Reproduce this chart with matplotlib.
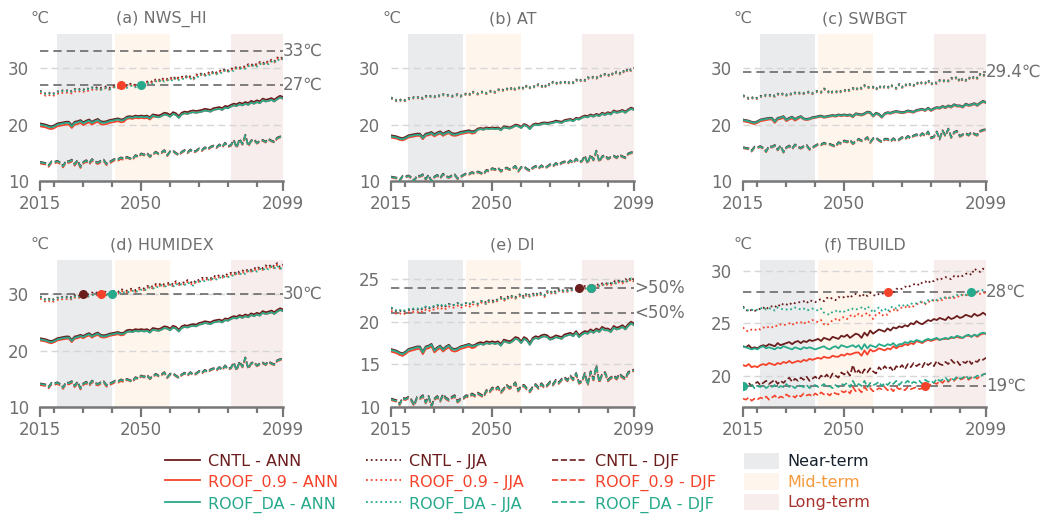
import matplotlib
matplotlib.use('Agg')
import matplotlib.pyplot as plt
import matplotlib.transforms as mtransforms
from matplotlib.lines import Line2D
from matplotlib.patches import Patch

years = list(range(2015, 2100))

# ---------------- (a) NWS_HI ----------------
a_cntl_ann = [20.2,20.1,20.0,19.8,19.7,19.9,20.2,20.3,20.4,20.5,
              20.5,19.9,20.5,20.6,20.8,20.4,20.7,20.9,20.5,20.8,
              21.0,20.6,20.5,20.6,20.8,20.9,21.0,21.1,20.9,21.0,
              21.4,21.5,21.4,21.6,21.5,21.6,21.5,21.6,21.3,21.8,
              21.7,21.6,21.8,22.1,22.0,21.7,22.2,22.0,21.5,22.1,
              22.3,22.2,22.4,22.5,22.4,22.5,22.6,22.8,22.7,22.6,
              22.9,23.0,23.1,22.9,23.3,23.2,23.5,23.7,23.6,23.9,
              23.7,24.0,23.8,24.2,24.0,24.3,24.1,24.6,24.4,24.5,
              24.7,24.4,24.8,25.1,24.9]
a_r09_ann = [19.7,19.6,19.5,19.3,19.2,19.4,19.7,19.8,19.9,20.0,
             20.0,19.4,20.0,20.1,20.3,19.9,20.2,20.4,20.0,20.3,
             20.5,20.1,20.0,20.1,20.3,20.4,20.5,20.6,20.4,20.5,
             21.0,21.1,21.0,21.2,21.1,21.2,21.1,21.2,20.9,21.4,
             21.4,21.3,21.5,21.8,21.7,21.4,21.9,21.7,21.2,21.8,
             22.0,21.9,22.1,22.2,22.1,22.2,22.3,22.5,22.4,22.3,
             22.6,22.7,22.8,22.6,23.0,22.9,23.2,23.4,23.3,23.6,
             23.4,23.7,23.5,23.9,23.7,24.0,23.8,24.3,24.1,24.2,
             24.4,24.1,24.5,24.8,24.6]
a_da_ann = [20.0,19.9,19.8,19.6,19.5,19.7,20.0,20.1,20.2,20.3,
            20.3,19.7,20.3,20.4,20.6,20.2,20.5,20.7,20.3,20.6,
            20.8,20.4,20.3,20.4,20.6,20.7,20.8,20.9,20.7,20.8,
            21.2,21.3,21.2,21.4,21.3,21.4,21.3,21.4,21.1,21.6,
            21.4,21.3,21.5,21.8,21.7,21.4,21.9,21.7,21.2,21.8,
            22.0,21.9,22.1,22.2,22.1,22.2,22.3,22.5,22.4,22.3,
            22.6,22.7,22.8,22.6,23.0,22.9,23.2,23.4,23.3,23.6,
            23.4,23.7,23.5,23.9,23.7,24.0,23.8,24.3,24.1,24.2,
            24.4,24.1,24.5,24.8,24.6]
a_cntl_jja = [26.0,25.8,25.5,25.7,25.4,25.6,25.9,25.8,26.1,26.0,
              26.2,25.9,26.3,26.1,26.4,26.2,26.5,26.3,26.6,26.4,
              26.7,26.5,26.6,26.8,26.5,26.8,26.9,26.7,27.3,27.1,
              26.9,27.2,27.3,27.0,27.3,27.5,27.2,27.6,27.8,27.5,
              28.0,27.8,28.3,27.9,28.1,28.4,28.0,28.6,28.2,28.5,
              28.3,28.8,28.5,28.2,28.9,28.7,29.2,28.9,29.3,29.0,
              29.5,29.2,29.6,29.4,29.9,29.6,30.0,29.8,30.3,30.1,
              30.4,30.2,30.7,30.5,30.9,30.6,31.1,30.8,31.3,31.0,
              31.5,31.2,31.9,31.6,32.0]
a_r09_jja = [25.6,25.4,25.1,25.3,25.0,25.2,25.5,25.4,25.7,25.6,
             25.8,25.5,25.9,25.7,26.0,25.8,26.1,25.9,26.2,26.0,
             26.4,26.2,26.3,26.5,26.2,26.6,26.7,26.5,27.0,26.9,
             26.7,27.0,27.1,26.8,27.1,27.3,27.0,27.4,27.6,27.3,
             27.8,27.6,28.1,27.7,27.9,28.2,27.8,28.4,28.0,28.3,
             28.1,28.6,28.3,28.0,28.7,28.5,29.0,28.7,29.1,28.8,
             29.3,29.0,29.4,29.2,29.7,29.4,29.8,29.6,30.1,29.9,
             30.2,30.0,30.5,30.3,30.7,30.4,30.9,30.6,31.1,30.8,
             31.3,31.0,31.7,31.4,31.8]
a_da_jja = [25.9,25.7,25.4,25.6,25.3,25.5,25.8,25.7,26.0,25.9,
            26.1,25.8,26.2,26.0,26.3,26.1,26.4,26.2,26.5,26.3,
            26.4,26.2,26.3,26.5,26.2,26.5,26.6,26.4,26.9,26.7,
            26.5,26.8,26.9,26.6,26.9,27.1,26.9,27.3,27.5,27.2,
            27.7,27.5,28.0,27.6,27.8,28.1,27.7,28.3,27.9,28.2,
            28.0,28.5,28.2,27.9,28.6,28.4,28.9,28.6,29.0,28.7,
            29.2,28.9,29.3,29.1,29.6,29.3,29.7,29.5,30.0,29.8,
            30.1,29.9,30.4,30.2,30.6,30.3,30.8,30.5,31.0,30.7,
            31.2,30.9,31.6,31.3,31.7]
a_cntl_djf = [13.4,13.3,13.2,12.8,13.5,13.4,13.6,13.3,12.7,13.6,
              13.5,13.8,13.0,13.7,12.6,13.4,13.7,13.2,13.9,13.5,
              13.3,13.6,13.8,13.1,13.4,13.7,14.0,13.9,14.2,14.0,
              14.3,14.1,13.9,14.6,14.4,14.9,14.7,15.0,14.4,14.8,
              15.2,14.9,15.1,15.5,14.6,15.3,15.4,15.0,14.7,15.2,
              15.5,15.1,15.6,15.2,15.4,15.8,15.5,16.0,15.7,16.1,
              16.3,16.0,16.5,16.1,16.8,16.2,16.4,17.3,16.0,17.5,
              16.6,18.2,16.3,17.2,17.4,16.8,17.1,17.3,17.0,17.5,
              17.2,17.0,17.7,17.9,18.0]
a_r09_djf = [13.1,13.0,12.9,12.5,13.2,13.1,13.3,13.0,12.4,13.3,
             13.2,13.5,12.7,13.4,12.3,13.1,13.4,12.9,13.6,13.2,
             13.0,13.3,13.5,12.8,13.1,13.4,13.7,13.6,13.9,13.7,
             14.1,13.9,13.7,14.4,14.2,14.7,14.5,14.8,14.2,14.6,
             15.0,14.7,14.9,15.3,14.4,15.1,15.2,14.8,14.5,15.0,
             15.3,14.9,15.4,15.0,15.2,15.6,15.3,15.8,15.5,15.9,
             16.1,15.8,16.3,15.9,16.6,16.0,16.2,17.1,15.8,17.3,
             16.4,18.0,16.1,17.0,17.2,16.6,16.9,17.1,16.8,17.3,
             17.0,16.8,17.5,17.7,17.8]
a_da_djf = [13.3,13.2,13.1,12.7,13.4,13.3,13.5,13.2,12.6,13.5,
            13.4,13.7,12.9,13.6,12.5,13.3,13.6,13.1,13.8,13.4,
            13.2,13.5,13.7,13.0,13.3,13.6,13.9,13.8,14.1,13.9,
            14.2,14.0,13.8,14.5,14.3,14.8,14.6,14.9,14.3,14.7,
            15.1,14.8,15.0,15.4,14.5,15.2,15.3,14.9,14.6,15.1,
            15.4,15.0,15.5,15.1,15.3,15.7,15.4,15.9,15.6,16.0,
            16.2,15.9,16.4,16.0,16.7,16.1,16.3,17.2,15.9,17.4,
            16.5,18.1,16.2,17.1,17.3,16.7,17.0,17.2,16.9,17.4,
            17.1,16.9,17.6,17.8,17.9]

# ---------------- (b) AT ----------------
b_cntl_ann = [18.1,18.0,17.9,17.7,17.6,17.8,18.1,18.2,18.3,18.4,
              18.4,17.8,18.4,18.5,18.7,18.3,18.6,18.8,18.4,18.7,
              18.9,18.5,18.4,18.5,18.7,18.8,18.9,19.0,18.8,18.9,
              19.3,19.4,19.3,19.5,19.4,19.5,19.4,19.5,19.2,19.7,
              19.6,19.5,19.7,20.0,19.9,19.6,20.1,19.9,19.4,20.0,
              20.2,20.1,20.3,20.4,20.3,20.4,20.5,20.7,20.6,20.5,
              20.8,20.9,21.0,20.8,21.2,21.1,21.4,21.6,21.5,21.8,
              21.6,21.9,21.7,22.1,21.9,22.2,22.0,22.5,22.3,22.4,
              22.6,22.3,22.7,23.0,22.8]
b_r09_ann = [17.7,17.6,17.5,17.3,17.2,17.4,17.7,17.8,17.9,18.0,
             18.0,17.4,18.0,18.1,18.3,17.9,18.2,18.4,18.0,18.3,
             18.5,18.1,18.0,18.1,18.3,18.4,18.5,18.6,18.4,18.5,
             19.1,19.2,19.1,19.3,19.2,19.3,19.2,19.3,19.0,19.5,
             19.4,19.3,19.5,19.8,19.7,19.4,19.9,19.7,19.2,19.8,
             20.0,19.9,20.1,20.2,20.1,20.2,20.3,20.5,20.4,20.3,
             20.6,20.7,20.8,20.6,21.0,20.9,21.2,21.4,21.3,21.6,
             21.4,21.7,21.5,21.9,21.7,22.0,21.8,22.3,22.1,22.2,
             22.4,22.1,22.5,22.8,22.6]
b_da_ann = [17.9,17.8,17.7,17.5,17.4,17.6,17.9,18.0,18.1,18.2,
            18.2,17.6,18.2,18.3,18.5,18.1,18.4,18.6,18.2,18.5,
            18.7,18.3,18.2,18.3,18.5,18.6,18.7,18.8,18.6,18.7,
            19.1,19.2,19.1,19.3,19.2,19.3,19.2,19.3,19.0,19.5,
            19.4,19.3,19.5,19.8,19.7,19.4,19.9,19.7,19.2,19.8,
            20.0,19.9,20.1,20.2,20.1,20.2,20.3,20.5,20.4,20.3,
            20.6,20.7,20.8,20.6,21.0,20.9,21.2,21.4,21.3,21.6,
            21.4,21.7,21.5,21.9,21.7,22.0,21.8,22.3,22.1,22.2,
            22.4,22.1,22.5,22.8,22.6]
b_cntl_jja = [24.8,24.6,24.3,24.5,24.2,24.4,24.7,24.6,24.9,24.8,
              25.0,24.7,25.1,24.9,25.2,25.0,25.3,25.1,25.4,25.2,
              25.3,25.1,25.2,25.4,25.1,25.4,25.5,25.3,25.9,25.7,
              25.5,25.8,25.9,25.6,25.9,26.1,25.8,26.2,26.4,26.1,
              26.4,26.2,26.7,26.3,26.5,26.8,26.4,27.0,26.6,26.9,
              26.7,27.2,26.9,26.6,27.3,27.1,27.6,27.3,27.7,27.4,
              27.6,27.3,27.7,27.5,28.0,27.7,28.1,27.9,28.4,28.2,
              28.5,28.3,28.8,28.6,29.0,28.7,29.2,28.9,29.4,29.1,
              29.6,29.3,30.0,29.7,30.1]
b_r09_jja = [24.6,24.4,24.1,24.3,24.0,24.2,24.5,24.4,24.7,24.6,
             24.8,24.5,24.9,24.7,25.0,24.8,25.1,24.9,25.2,25.0,
             25.1,24.9,25.0,25.2,24.9,25.2,25.3,25.1,25.7,25.5,
             25.3,25.6,25.7,25.4,25.7,25.9,25.6,26.0,26.2,25.9,
             26.2,26.0,26.5,26.1,26.3,26.6,26.2,26.8,26.4,26.7,
             26.5,27.0,26.7,26.4,27.1,26.9,27.4,27.1,27.5,27.2,
             27.4,27.1,27.5,27.3,27.8,27.5,27.9,27.7,28.2,28.0,
             28.3,28.1,28.6,28.4,28.8,28.5,29.0,28.7,29.2,28.9,
             29.4,29.1,29.8,29.5,29.9]
b_da_jja = [24.7,24.5,24.2,24.4,24.1,24.3,24.6,24.5,24.8,24.7,
            24.9,24.6,25.0,24.8,25.1,24.9,25.2,25.0,25.3,25.1,
            25.2,25.0,25.1,25.3,25.0,25.3,25.4,25.2,25.8,25.6,
            25.4,25.7,25.8,25.5,25.8,26.0,25.7,26.1,26.3,26.0,
            26.3,26.1,26.6,26.2,26.4,26.7,26.3,26.9,26.5,26.8,
            26.6,27.1,26.8,26.5,27.2,27.0,27.5,27.2,27.6,27.3,
            27.5,27.2,27.6,27.4,27.9,27.6,28.0,27.8,28.3,28.1,
            28.4,28.2,28.7,28.5,28.9,28.6,29.1,28.8,29.3,29.0,
            29.5,29.2,29.9,29.6,30.0]
b_cntl_djf = [10.8,10.7,10.6,10.2,10.9,10.8,11.0,10.7,10.1,11.0,
              10.9,11.2,10.4,11.1,10.0,10.8,11.1,10.6,11.3,10.9,
              10.7,11.0,11.2,10.5,10.8,11.1,11.4,11.3,11.6,11.4,
              11.7,11.5,11.3,12.0,11.8,12.3,12.1,12.4,11.8,12.2,
              12.4,12.1,12.3,12.7,11.8,12.5,12.6,12.2,11.9,12.4,
              12.7,12.3,12.8,12.4,12.6,13.0,12.7,13.2,12.9,13.3,
              13.5,13.2,13.7,13.3,14.0,13.4,13.6,14.5,13.2,14.7,
              13.8,15.4,13.5,14.4,14.6,14.0,14.3,14.5,14.2,14.7,
              14.4,14.2,14.9,15.1,15.2]
b_r09_djf = [10.6,10.5,10.4,10.0,10.7,10.6,10.8,10.5,9.9,10.8,
             10.7,11.0,10.2,10.9,9.8,10.6,10.9,10.4,11.1,10.7,
             10.5,10.8,11.0,10.3,10.6,10.9,11.2,11.1,11.4,11.2,
             11.5,11.3,11.1,11.8,11.6,12.1,11.9,12.2,11.6,12.0,
             12.2,11.9,12.1,12.5,11.6,12.3,12.4,12.0,11.7,12.2,
             12.5,12.1,12.6,12.2,12.4,12.8,12.5,13.0,12.7,13.1,
             13.3,13.0,13.5,13.1,13.8,13.2,13.4,14.3,13.0,14.5,
             13.6,15.2,13.3,14.2,14.4,13.8,14.1,14.3,14.0,14.5,
             14.2,14.0,14.7,14.9,15.0]
b_da_djf = [10.7,10.6,10.5,10.1,10.8,10.7,10.9,10.6,10.0,10.9,
            10.8,11.1,10.3,11.0,9.9,10.7,11.0,10.5,11.2,10.8,
            10.6,10.9,11.1,10.4,10.7,11.0,11.3,11.2,11.5,11.3,
            11.6,11.4,11.2,11.9,11.7,12.2,12.0,12.3,11.7,12.1,
            12.3,12.0,12.2,12.6,11.7,12.4,12.5,12.1,11.8,12.3,
            12.6,12.2,12.7,12.3,12.5,12.9,12.6,13.1,12.8,13.2,
            13.4,13.1,13.6,13.2,13.9,13.3,13.5,14.4,13.1,14.6,
            13.7,15.3,13.4,14.3,14.5,13.9,14.2,14.4,14.1,14.6,
            14.3,14.1,14.8,15.0,15.1]

# ---------------- (c) SWBGT ----------------
c_cntl_ann = [20.9,20.8,20.7,20.5,20.4,20.6,20.9,21.0,21.1,21.2,
              21.2,20.6,21.2,21.3,21.5,20.9,21.2,21.4,21.0,21.3,
              21.5,21.1,21.0,21.1,21.3,21.4,21.5,21.6,21.4,21.5,
              21.6,21.7,21.6,21.8,21.7,21.8,21.7,21.8,21.5,22.0,
              21.9,21.8,22.0,22.3,22.2,21.6,22.1,21.9,21.4,22.0,
              22.2,22.1,22.3,22.4,22.3,22.2,22.3,22.5,22.4,22.3,
              22.6,22.7,22.8,22.6,23.0,22.6,22.9,23.1,23.0,23.3,
              23.1,23.4,23.2,23.6,23.4,23.4,23.2,23.7,23.5,23.6,
              23.8,23.5,23.9,24.2,24.0]
c_r09_ann = [20.6,20.5,20.4,20.2,20.1,20.3,20.6,20.7,20.8,20.9,
             20.9,20.3,20.9,21.0,21.2,20.6,20.9,21.1,20.7,21.0,
             21.3,20.9,20.8,20.9,21.1,21.2,21.3,21.4,21.2,21.3,
             21.4,21.5,21.4,21.6,21.5,21.6,21.5,21.6,21.3,21.8,
             21.7,21.6,21.8,22.1,22.0,21.4,21.9,21.7,21.2,21.8,
             22.0,21.9,22.1,22.2,22.1,22.0,22.1,22.3,22.2,22.1,
             22.4,22.5,22.6,22.4,22.8,22.4,22.7,22.9,22.8,23.1,
             22.9,23.2,23.0,23.4,23.2,23.2,23.0,23.5,23.3,23.4,
             23.6,23.3,23.7,24.0,23.8]
c_da_ann = [20.8,20.7,20.6,20.4,20.3,20.5,20.8,20.9,21.0,21.1,
            21.1,20.5,21.1,21.2,21.4,20.8,21.1,21.3,20.9,21.2,
            21.4,21.0,20.9,21.0,21.2,21.3,21.4,21.5,21.3,21.4,
            21.5,21.6,21.5,21.7,21.6,21.7,21.6,21.7,21.4,21.9,
            21.8,21.7,21.9,22.2,22.1,21.5,22.0,21.8,21.3,21.9,
            22.1,22.0,22.2,22.3,22.2,22.1,22.2,22.4,22.3,22.2,
            22.5,22.6,22.7,22.5,22.9,22.5,22.8,23.0,22.9,23.2,
            23.0,23.3,23.1,23.5,23.3,23.3,23.1,23.6,23.4,23.5,
            23.7,23.4,23.8,24.1,23.9]
c_cntl_jja = [25.2,25.0,24.7,24.9,24.6,24.8,25.1,25.0,25.3,25.2,
              25.4,25.1,25.5,25.3,25.6,25.3,25.6,25.4,25.7,25.5,
              25.8,25.6,25.7,25.9,25.6,25.9,26.0,25.8,26.4,26.2,
              25.6,25.9,26.0,25.7,26.0,26.2,25.9,26.3,26.5,26.2,
              26.7,26.5,27.0,26.6,26.8,26.7,26.3,26.9,26.5,26.8,
              26.6,27.1,26.8,26.5,27.2,26.7,27.2,26.9,27.3,27.0,
              27.5,27.2,27.6,27.4,27.9,27.2,27.6,27.4,27.9,27.7,
              28.0,27.8,28.3,28.1,28.5,27.7,28.2,27.9,28.4,28.1,
              28.6,28.3,29.0,28.7,29.1]
c_r09_jja = [25.0,24.8,24.5,24.7,24.4,24.6,24.9,24.8,25.1,25.0,
             25.2,24.9,25.3,25.1,25.4,25.1,25.4,25.2,25.5,25.3,
             25.6,25.4,25.5,25.7,25.4,25.7,25.8,25.6,26.2,26.0,
             25.4,25.7,25.8,25.5,25.8,26.0,25.7,26.1,26.3,26.0,
             26.5,26.3,26.8,26.4,26.6,26.5,26.1,26.7,26.3,26.6,
             26.4,26.9,26.6,26.3,27.0,26.5,27.0,26.7,27.1,26.8,
             27.3,27.0,27.4,27.2,27.7,27.0,27.4,27.2,27.7,27.5,
             27.8,27.6,28.1,27.9,28.3,27.5,28.0,27.7,28.2,27.9,
             28.4,28.1,28.8,28.5,28.9]
c_da_jja = [25.1,24.9,24.6,24.8,24.5,24.7,25.0,24.9,25.2,25.1,
            25.3,25.0,25.4,25.2,25.5,25.2,25.5,25.3,25.6,25.4,
            25.7,25.5,25.6,25.8,25.5,25.8,25.9,25.7,26.3,26.1,
            25.5,25.8,25.9,25.6,25.9,26.1,25.8,26.2,26.4,26.1,
            26.6,26.4,26.9,26.5,26.7,26.6,26.2,26.8,26.4,26.7,
            26.5,27.0,26.7,26.4,27.1,26.6,27.1,26.8,27.2,26.9,
            27.4,27.1,27.5,27.3,27.8,27.1,27.5,27.3,27.8,27.6,
            27.9,27.7,28.2,28.0,28.4,27.6,28.1,27.8,28.3,28.0,
            28.5,28.2,28.9,28.6,29.0]
c_cntl_djf = [16.0,15.9,15.8,15.4,16.1,16.0,16.2,15.9,15.3,16.2,
              16.1,16.4,15.6,16.3,15.2,16.0,16.3,15.8,16.5,16.1,
              15.9,16.2,16.4,15.7,16.0,16.3,16.6,16.5,16.8,16.6,
              16.6,16.4,16.2,16.9,16.7,17.2,17.0,17.3,16.7,17.1,
              17.5,17.2,17.4,17.8,16.9,17.6,17.7,17.3,17.0,17.5,
              17.5,17.1,17.6,17.2,17.4,17.8,17.5,18.0,17.7,18.1,
              18.3,18.0,18.5,18.1,18.8,17.7,17.9,18.8,17.5,19.0,
              18.1,19.3,17.8,18.7,18.9,18.0,18.3,18.5,18.2,18.7,
              18.4,18.2,18.9,19.1,19.2]
c_r09_djf = [15.8,15.7,15.6,15.2,15.9,15.8,16.0,15.7,15.1,16.0,
             15.9,16.2,15.4,16.1,15.0,15.8,16.1,15.6,16.3,15.9,
             15.7,16.0,16.2,15.5,15.8,16.1,16.4,16.3,16.6,16.4,
             16.4,16.2,16.0,16.7,16.5,17.0,16.8,17.1,16.5,16.9,
             17.3,17.0,17.2,17.6,16.7,17.4,17.5,17.1,16.8,17.3,
             17.3,16.9,17.4,17.0,17.2,17.6,17.3,17.8,17.5,17.9,
             18.1,17.8,18.3,17.9,18.6,17.5,17.7,18.6,17.3,18.8,
             17.9,19.1,17.6,18.5,18.7,17.8,18.1,18.3,18.0,18.5,
             18.2,18.0,18.7,18.9,19.0]
c_da_djf = [15.9,15.8,15.7,15.3,16.0,15.9,16.1,15.8,15.2,16.1,
            16.0,16.3,15.5,16.2,15.1,15.9,16.2,15.7,16.4,16.0,
            15.8,16.1,16.3,15.6,15.9,16.2,16.5,16.4,16.7,16.5,
            16.5,16.3,16.1,16.8,16.6,17.1,16.9,17.2,16.6,17.0,
            17.4,17.1,17.3,17.7,16.8,17.5,17.6,17.2,16.9,17.4,
            17.4,17.0,17.5,17.1,17.3,17.7,17.4,17.9,17.6,18.0,
            18.2,17.9,18.4,18.0,18.7,17.6,17.8,18.7,17.4,18.9,
            18.0,19.2,17.7,18.6,18.8,17.9,18.2,18.4,18.1,18.6,
            18.3,18.1,18.8,19.0,19.1]

# ---------------- (d) HUMIDEX ----------------
d_cntl_ann = [22.2,22.1,22.0,21.8,21.7,21.9,22.2,22.3,22.4,22.5,
              22.5,21.9,22.5,22.6,22.8,22.6,22.9,23.1,22.7,23.0,
              23.2,22.8,22.7,22.8,23.0,23.1,23.2,23.3,23.1,23.2,
              23.6,23.7,23.6,23.8,23.7,23.8,23.7,23.8,23.5,24.0,
              23.9,23.8,24.0,24.3,24.2,23.9,24.4,24.2,23.7,24.3,
              24.5,24.4,24.6,24.7,24.6,24.9,25.0,25.2,25.1,25.0,
              25.3,25.4,25.5,25.3,25.7,25.6,25.9,26.1,26.0,26.3,
              26.1,26.4,26.2,26.6,26.4,26.7,26.5,27.0,26.8,26.9,
              27.1,26.8,27.2,27.5,27.3]
d_r09_ann = [21.8,21.7,21.6,21.4,21.3,21.5,21.8,21.9,22.0,22.1,
             22.1,21.5,22.1,22.2,22.4,22.2,22.5,22.7,22.3,22.6,
             22.8,22.4,22.3,22.4,22.6,22.7,22.8,22.9,22.7,22.8,
             23.3,23.4,23.3,23.5,23.4,23.5,23.4,23.5,23.2,23.7,
             23.6,23.5,23.7,24.0,23.9,23.6,24.1,23.9,23.4,24.0,
             24.2,24.1,24.3,24.4,24.3,24.6,24.7,24.9,24.8,24.7,
             25.0,25.1,25.2,25.0,25.4,25.3,25.6,25.8,25.7,26.0,
             25.8,26.1,25.9,26.3,26.1,26.4,26.2,26.7,26.5,26.6,
             26.8,26.5,26.9,27.2,27.0]
d_da_ann = [22.0,21.9,21.8,21.6,21.5,21.7,22.0,22.1,22.2,22.3,
            22.3,21.7,22.3,22.4,22.6,22.4,22.7,22.9,22.5,22.8,
            23.0,22.6,22.5,22.6,22.8,22.9,23.0,23.1,22.9,23.0,
            23.3,23.4,23.3,23.5,23.4,23.5,23.4,23.5,23.2,23.7,
            23.6,23.5,23.7,24.0,23.9,23.6,24.1,23.9,23.4,24.0,
            24.2,24.1,24.3,24.4,24.3,24.6,24.7,24.9,24.8,24.7,
            25.0,25.1,25.2,25.0,25.4,25.3,25.6,25.8,25.7,26.0,
            25.8,26.1,25.9,26.3,26.1,26.4,26.2,26.7,26.5,26.6,
            26.8,26.5,26.9,27.2,27.0]
d_cntl_jja = [29.6,29.4,29.0,29.2,28.9,29.2,29.4,29.3,29.6,29.5,
              29.7,29.4,29.8,29.6,29.9,30.1,29.9,30.0,30.3,30.1,
              30.4,30.2,30.5,30.4,30.2,30.6,30.5,30.4,30.9,30.7,
              30.6,30.9,31.0,30.7,31.1,31.2,31.0,31.4,31.6,31.3,
              31.8,31.6,32.0,31.7,31.9,32.1,31.7,32.3,31.9,32.2,
              32.0,32.5,32.2,31.9,32.6,32.5,32.9,32.7,33.0,32.8,
              33.3,33.0,33.4,33.2,33.6,33.4,33.8,33.6,34.1,33.9,
              34.2,34.0,34.5,34.3,34.7,34.4,34.9,34.6,35.1,34.8,
              35.3,34.9,35.5,34.8,35.3]
d_r09_jja = [29.2,29.0,28.6,28.8,28.5,28.8,29.0,28.9,29.2,29.1,
             29.3,29.0,29.4,29.2,29.5,29.7,29.5,29.6,29.9,29.7,
             29.9,30.0,29.9,29.8,29.7,30.3,30.2,30.1,30.6,30.4,
             30.3,30.6,30.7,30.4,30.8,30.9,30.7,31.1,31.3,31.0,
             31.5,31.3,31.7,31.4,31.6,31.8,31.4,32.0,31.6,31.9,
             31.7,32.2,31.9,31.6,32.3,32.2,32.6,32.4,32.7,32.5,
             33.0,32.7,33.1,32.9,33.3,33.1,33.5,33.3,33.8,33.6,
             33.9,33.7,34.2,34.0,34.4,34.1,34.6,34.3,34.8,34.5,
             35.0,34.6,35.2,34.5,35.0]
d_da_jja = [29.5,29.3,28.9,29.1,28.8,29.1,29.3,29.2,29.5,29.4,
            29.5,29.2,29.6,29.4,29.7,29.8,29.6,29.7,29.9,29.7,
            29.9,29.8,29.9,29.9,29.8,30.1,30.1,30.0,30.5,30.3,
            30.2,30.5,30.6,30.3,30.7,30.8,30.6,31.0,31.2,30.9,
            31.4,31.2,31.6,31.3,31.5,31.7,31.3,31.9,31.5,31.8,
            31.6,32.1,31.8,31.5,32.2,32.1,32.5,32.3,32.6,32.4,
            32.9,32.6,33.0,32.8,33.2,33.0,33.4,33.2,33.7,33.5,
            33.8,33.6,34.1,33.9,34.3,34.0,34.5,34.2,34.7,34.4,
            34.9,34.5,35.1,34.4,34.9]
d_cntl_djf = [14.2,14.1,14.0,13.6,14.3,14.2,14.4,14.1,13.5,14.4,
              14.3,14.6,13.8,14.5,13.4,14.2,14.5,14.0,14.7,14.3,
              14.1,14.4,14.6,13.9,14.2,14.4,14.7,14.6,14.9,14.7,
              15.0,14.8,14.6,15.3,15.1,15.6,15.4,15.7,15.1,15.5,
              15.9,15.6,15.8,16.2,15.3,15.9,16.0,15.6,15.3,15.8,
              16.1,15.7,16.2,15.8,16.0,16.4,16.1,16.6,16.3,16.7,
              16.9,16.6,17.1,16.7,17.4,16.8,17.0,17.9,16.6,18.1,
              17.2,18.8,16.9,17.8,18.0,17.4,17.7,17.9,17.6,18.1,
              17.8,17.6,18.3,18.5,18.6]
d_r09_djf = [13.9,13.8,13.7,13.3,14.0,13.9,14.1,13.8,13.2,14.1,
             14.0,14.3,13.5,14.2,13.1,13.9,14.2,13.7,14.4,14.0,
             13.8,14.1,14.3,13.6,13.9,14.1,14.4,14.3,14.6,14.4,
             14.8,14.6,14.4,15.1,14.9,15.4,15.2,15.5,14.9,15.3,
             15.7,15.4,15.6,16.0,15.1,15.7,15.8,15.4,15.1,15.6,
             15.9,15.5,16.0,15.6,15.8,16.2,15.9,16.4,16.1,16.5,
             16.7,16.4,16.9,16.5,17.2,16.6,16.8,17.7,16.4,17.9,
             17.0,18.6,16.7,17.6,17.8,17.2,17.5,17.7,17.4,17.9,
             17.6,17.4,18.1,18.3,18.4]
d_da_djf = [14.1,14.0,13.9,13.5,14.2,14.1,14.3,14.0,13.4,14.3,
            14.2,14.5,13.7,14.4,13.3,14.1,14.4,13.9,14.6,14.2,
            14.0,14.3,14.5,13.8,14.1,14.3,14.6,14.5,14.8,14.6,
            14.9,14.7,14.5,15.2,15.0,15.5,15.3,15.6,15.0,15.4,
            15.8,15.5,15.7,16.1,15.2,15.8,15.9,15.5,15.2,15.7,
            16.0,15.6,16.1,15.7,15.9,16.3,16.0,16.5,16.2,16.6,
            16.8,16.5,17.0,16.6,17.3,16.7,16.9,17.8,16.5,18.0,
            17.1,18.7,16.8,17.7,17.9,17.3,17.6,17.8,17.5,18.0,
            17.7,17.5,18.2,18.4,18.5]

# ---------------- (e) DI ----------------
e_cntl_ann = [16.8,16.7,16.6,16.4,16.3,16.5,16.8,16.9,17.0,17.1,
              17.1,16.5,17.1,17.2,17.4,16.7,17.0,17.2,16.8,17.1,
              17.3,16.9,16.8,16.9,17.1,17.2,17.3,17.4,17.2,17.3,
              17.5,17.6,17.5,17.7,17.6,17.7,17.6,17.7,17.4,17.9,
              17.8,17.7,17.9,18.2,18.1,17.7,18.2,18.0,17.5,18.1,
              18.3,18.2,18.4,18.5,18.4,18.1,18.2,18.4,18.3,18.2,
              18.5,18.6,18.7,18.5,18.9,18.4,18.7,18.9,18.8,19.1,
              18.9,19.2,19.0,19.4,19.2,19.2,19.0,19.5,19.3,19.4,
              19.6,19.3,19.7,20.0,19.8]
e_r09_ann = [16.5,16.4,16.3,16.1,16.0,16.2,16.5,16.6,16.7,16.8,
             16.8,16.2,16.8,16.9,17.1,16.4,16.7,16.9,16.5,16.8,
             17.0,16.6,16.5,16.6,16.8,16.9,17.0,17.1,16.9,17.0,
             17.3,17.4,17.3,17.5,17.4,17.5,17.4,17.5,17.2,17.7,
             17.6,17.5,17.7,18.0,17.9,17.5,18.0,17.8,17.3,17.9,
             18.1,18.0,18.2,18.3,18.2,17.9,18.0,18.2,18.1,18.0,
             18.3,18.4,18.5,18.3,18.7,18.2,18.5,18.7,18.6,18.9,
             18.7,19.0,18.8,19.2,19.0,19.0,18.8,19.3,19.1,19.2,
             19.4,19.1,19.5,19.8,19.6]
e_da_ann = [16.7,16.6,16.5,16.3,16.2,16.4,16.7,16.8,16.9,17.0,
            17.0,16.4,17.0,17.1,17.3,16.6,16.9,17.1,16.7,17.0,
            17.2,16.8,16.7,16.8,17.0,17.1,17.2,17.3,17.1,17.2,
            17.3,17.4,17.3,17.5,17.4,17.5,17.4,17.5,17.2,17.7,
            17.6,17.5,17.7,18.0,17.9,17.5,18.0,17.8,17.3,17.9,
            18.1,18.0,18.2,18.3,18.2,17.9,18.0,18.2,18.1,18.0,
            18.3,18.4,18.5,18.3,18.7,18.2,18.5,18.7,18.6,18.9,
            18.7,19.0,18.8,19.2,19.0,19.0,18.8,19.3,19.1,19.2,
            19.4,19.1,19.5,19.8,19.6]
e_cntl_jja = [21.6,21.4,21.2,21.3,21.1,21.3,21.4,21.3,21.5,21.4,
              21.6,21.4,21.7,21.5,21.8,21.7,21.9,21.7,22.0,21.8,
              22.1,21.9,22.0,22.2,21.9,22.1,22.2,22.0,22.4,22.2,
              22.1,22.4,22.5,22.2,22.6,22.5,22.4,22.7,22.9,22.6,
              23.0,22.8,23.1,22.9,23.1,23.3,22.9,23.4,23.1,23.3,
              23.1,23.5,23.3,23.1,23.6,23.4,23.7,23.5,23.8,23.6,
              23.8,23.7,23.9,23.8,23.9,24.1,24.0,24.2,24.1,24.3,
              24.2,24.4,24.3,24.5,24.4,24.6,24.5,24.8,24.6,24.9,
              24.7,25.0,24.8,25.2,24.9]
e_r09_jja = [21.3,21.1,20.9,21.0,20.8,21.0,21.1,21.0,21.2,21.1,
             21.3,21.1,21.4,21.2,21.5,21.4,21.6,21.4,21.7,21.5,
             21.8,21.6,21.7,21.9,21.6,21.8,21.9,21.7,22.1,21.9,
             21.9,22.2,22.3,22.0,22.4,22.3,22.2,22.5,22.7,22.4,
             22.8,22.6,22.9,22.7,22.9,23.1,22.7,23.2,22.9,23.1,
             22.9,23.3,23.1,22.9,23.4,23.2,23.5,23.3,23.6,23.4,
             23.6,23.5,23.7,23.6,23.7,23.8,23.7,23.9,23.8,24.0,
             24.0,24.2,24.1,24.3,24.2,24.4,24.3,24.6,24.4,24.7,
             24.5,24.8,24.6,25.0,24.7]
e_da_jja = [21.7,21.5,21.3,21.4,21.2,21.4,21.5,21.4,21.6,21.5,
            21.7,21.5,21.8,21.6,21.9,21.8,22.0,21.8,22.1,21.9,
            22.1,21.9,22.0,22.2,21.9,22.1,22.2,22.0,22.4,22.2,
            22.1,22.4,22.4,22.1,22.5,22.4,22.3,22.6,22.8,22.5,
            22.9,22.7,23.0,22.8,23.0,23.2,22.8,23.3,23.0,23.2,
            23.0,23.4,23.2,23.0,23.5,23.3,23.6,23.4,23.7,23.5,
            23.7,23.6,23.8,23.7,23.8,23.9,23.8,23.9,23.9,24.1,
            24.1,24.3,24.2,24.4,24.3,24.5,24.4,24.7,24.5,24.8,
            24.6,24.9,24.7,25.1,24.8]
e_cntl_djf = [11.0,10.9,10.8,10.4,11.1,11.0,11.2,10.9,10.3,11.2,
              11.1,11.4,10.6,11.3,10.2,11.0,11.3,10.8,11.5,11.1,
              10.9,11.2,11.4,10.7,11.0,11.1,11.4,11.3,11.6,11.4,
              11.7,11.5,11.3,12.0,11.8,12.3,12.1,12.4,11.8,12.2,
              12.6,12.3,12.5,12.9,12.0,12.5,12.6,12.2,11.9,12.4,
              12.7,12.3,12.8,12.4,12.6,13.0,12.7,13.2,12.9,13.3,
              13.5,13.2,13.7,13.3,14.0,12.9,13.1,14.0,12.7,14.2,
              13.3,14.9,13.0,13.9,14.1,13.2,13.5,13.7,13.4,13.9,
              13.6,13.4,14.1,14.3,14.4]
e_r09_djf = [10.8,10.7,10.6,10.2,10.9,10.8,11.0,10.7,10.1,11.0,
             10.9,11.2,10.4,11.1,10.0,10.8,11.1,10.6,11.3,10.9,
             10.7,11.0,11.2,10.5,10.8,10.9,11.2,11.1,11.4,11.2,
             11.5,11.3,11.1,11.8,11.6,12.1,11.9,12.2,11.6,12.0,
             12.4,12.1,12.3,12.7,11.8,12.3,12.4,12.0,11.7,12.2,
             12.5,12.1,12.6,12.2,12.4,12.8,12.5,13.0,12.7,13.1,
             13.3,13.0,13.5,13.1,13.8,12.7,12.9,13.8,12.5,14.0,
             13.1,14.7,12.8,13.7,13.9,13.0,13.3,13.5,13.2,13.7,
             13.4,13.2,13.9,14.1,14.2]
e_da_djf = [10.9,10.8,10.7,10.3,11.0,10.9,11.1,10.8,10.2,11.1,
            11.0,11.3,10.5,11.2,10.1,10.9,11.2,10.7,11.4,11.0,
            10.8,11.1,11.3,10.6,10.9,11.0,11.3,11.2,11.5,11.3,
            11.6,11.4,11.2,11.9,11.7,12.2,12.0,12.3,11.7,12.1,
            12.5,12.2,12.4,12.8,11.9,12.4,12.5,12.1,11.8,12.3,
            12.6,12.2,12.7,12.3,12.5,12.9,12.6,13.1,12.8,13.2,
            13.4,13.1,13.6,13.2,13.9,12.8,13.0,13.9,12.6,14.1,
            13.2,14.8,12.9,13.8,14.0,13.1,13.4,13.6,13.3,13.8,
            13.5,13.3,14.0,14.2,14.3]

# ---------------- (f) TBUILD ----------------
f_cntl_ann = [22.8,22.7,22.9,22.6,22.7,22.6,22.8,22.9,22.8,23.0,
              22.9,22.8,23.1,22.9,23.0,23.1,23.2,23.0,23.2,23.3,
              23.1,23.3,23.2,23.4,23.3,23.4,23.5,23.3,23.6,23.5,
              23.4,23.7,23.6,23.5,23.8,23.7,23.9,23.6,23.8,24.0,
              23.9,23.6,24.1,23.8,24.3,24.0,24.2,24.4,24.3,24.2,
              24.5,24.3,24.6,24.5,24.7,24.6,24.8,24.7,25.0,24.9,
              25.2,25.0,24.9,25.1,25.3,25.2,25.4,25.3,25.5,25.4,
              25.3,25.6,25.4,25.5,25.7,25.5,25.6,25.8,25.7,25.6,
              25.9,25.7,25.8,26.0,25.8]
f_r09_ann = [21.0,20.9,21.1,20.8,20.9,20.8,21.0,21.1,21.0,21.2,
             21.1,21.0,21.2,21.1,21.3,21.2,21.4,21.2,21.3,21.4,
             21.3,21.5,21.4,21.6,21.5,21.6,21.7,21.6,21.8,21.7,
             21.7,21.9,21.8,21.8,22.0,21.9,22.1,22.0,22.1,22.2,
             22.2,21.9,22.4,22.0,22.5,22.3,22.4,22.6,22.5,22.4,
             22.6,22.5,22.8,22.6,22.8,22.8,23.0,22.9,23.1,23.0,
             23.3,23.2,23.1,23.3,23.4,23.3,23.4,23.5,23.4,23.5,
             23.5,23.5,23.6,23.6,23.7,23.6,23.6,23.8,23.8,23.7,
             23.9,23.7,23.9,24.0,24.0]
f_da_ann = [22.8,22.7,22.6,22.5,22.6,22.5,22.7,22.8,22.6,22.7,
            22.6,22.5,22.7,22.6,22.8,22.7,22.6,22.5,22.7,22.6,
            22.5,22.7,22.6,22.7,22.6,22.5,22.6,22.7,22.8,22.6,
            22.5,22.7,22.8,22.6,22.9,22.8,22.7,22.8,22.9,22.7,
            22.9,22.5,23.0,22.6,22.9,22.8,22.7,23.0,22.9,22.8,
            23.0,22.9,23.1,22.8,23.0,23.0,23.2,23.1,23.3,23.2,
            23.4,23.3,23.2,23.4,23.5,23.4,23.5,23.6,23.4,23.5,
            23.6,23.5,23.7,23.6,23.8,23.7,23.6,23.8,23.9,23.7,
            23.9,23.8,24.0,24.1,24.0]
f_cntl_jja = [26.6,26.3,26.1,26.3,26.2,26.2,26.4,26.5,26.3,26.6,
              26.6,26.5,26.8,26.6,26.9,26.8,26.7,27.0,26.9,27.0,
              27.0,27.1,26.9,27.2,27.1,27.0,27.2,27.3,27.1,27.4,
              27.5,27.3,27.2,27.5,27.4,27.5,27.6,27.4,27.7,27.8,
              27.7,27.5,27.8,27.6,27.9,27.7,27.6,27.8,27.9,27.7,
              28.0,28.1,27.9,28.3,28.2,28.3,28.5,28.4,28.6,28.7,
              28.8,28.6,28.9,29.0,28.8,29.1,29.0,29.2,29.1,29.3,
              29.4,29.3,29.2,29.5,29.4,29.6,29.5,29.7,29.8,29.6,
              30.2,30.0,29.9,30.2,30.1]
f_r09_jja = [24.6,24.3,24.2,24.4,24.3,24.5,24.4,24.6,24.5,24.7,
             24.6,24.8,24.7,24.9,24.8,24.9,25.0,24.8,25.1,25.0,
             25.1,24.9,25.2,25.1,25.3,25.2,25.1,25.3,24.9,24.8,
             25.0,25.3,25.4,25.2,25.5,25.6,25.4,25.7,25.8,25.6,
             25.9,25.7,25.8,26.0,25.7,25.4,25.8,26.0,25.7,25.9,
             25.8,26.2,26.3,26.1,26.4,26.5,26.6,26.4,26.7,26.6,
             26.8,26.9,27.0,26.8,27.1,27.0,27.2,27.1,27.3,27.2,
             27.4,27.3,27.5,27.4,27.6,27.5,27.7,27.6,27.8,27.7,
             27.8,27.9,27.8,27.9,27.9]
f_da_jja = [26.5,26.3,26.2,26.3,26.2,26.3,26.4,26.5,26.3,26.4,
            26.4,26.2,26.5,26.4,26.3,26.3,26.4,26.3,26.5,26.4,
            26.3,26.4,26.2,26.3,26.4,26.3,26.2,26.4,26.0,25.9,
            25.8,26.1,26.2,26.0,26.2,26.1,26.3,26.2,26.4,26.3,
            26.4,26.5,26.3,26.6,26.4,26.0,26.3,26.5,26.2,26.4,
            26.1,26.5,26.6,26.4,26.7,26.6,26.8,26.7,26.9,26.8,
            26.9,27.0,27.1,26.9,27.2,27.1,27.3,27.2,27.4,27.3,
            27.5,27.4,27.6,27.5,27.7,27.6,27.8,27.7,27.9,28.0,
            27.9,28.1,28.0,28.2,28.2]
f_cntl_djf = [19.1,18.9,19.3,19.0,19.2,19.4,19.1,19.3,19.5,19.2,
              19.4,19.6,19.2,19.5,19.3,19.6,19.8,19.4,19.7,19.5,
              19.8,19.6,19.9,19.5,19.7,19.9,19.6,20.0,19.8,20.1,
              19.7,20.2,20.0,19.8,20.3,20.1,20.4,20.0,21.0,20.2,
              20.5,20.1,20.6,20.3,20.7,20.4,20.2,20.8,20.5,20.9,
              20.6,20.8,20.4,20.9,20.7,21.0,20.6,21.1,20.8,21.2,
              20.9,21.1,20.8,21.3,21.0,21.2,20.9,21.4,21.1,21.0,
              21.3,21.1,21.5,21.2,21.4,21.0,21.3,21.2,21.5,21.1,
              21.4,21.3,21.6,21.5,21.7]
f_r09_djf = [17.8,17.7,17.9,17.6,17.8,17.7,17.9,17.8,18.0,17.7,
             17.9,18.1,17.8,18.0,17.9,18.2,18.0,18.1,17.9,18.2,
             18.0,18.3,18.1,18.2,18.0,18.3,18.1,18.4,18.2,18.3,
             18.1,18.4,18.3,18.2,18.5,18.4,18.6,18.3,18.9,18.5,
             18.7,18.4,18.9,18.6,18.8,18.5,18.6,18.8,18.7,18.9,
             18.6,18.8,18.5,18.9,18.7,18.8,18.6,18.9,18.7,18.8,
             18.9,18.7,18.8,19.0,19.2,19.1,19.3,19.2,19.5,19.3,
             19.6,19.4,19.7,19.5,19.8,19.6,19.7,19.9,19.6,19.8,
             19.9,19.7,20.0,20.1,20.2]
f_da_djf = [19.0,19.1,18.9,19.1,18.8,19.0,18.9,19.1,18.8,19.0,
            18.9,19.1,18.8,19.0,18.9,19.2,18.9,19.0,18.8,19.1,
            19.0,18.9,19.1,18.8,19.0,19.1,18.9,19.0,19.2,18.9,
            19.0,18.8,19.1,18.9,19.2,19.1,19.3,18.9,19.5,19.0,
            19.2,19.0,19.5,18.9,19.3,19.1,19.2,19.4,19.0,19.3,
            19.1,19.4,19.2,19.5,19.1,19.4,19.3,19.5,19.2,19.4,
            19.3,19.5,19.2,19.6,19.4,19.5,19.3,19.7,19.5,19.6,
            19.8,19.5,19.7,19.6,19.9,19.7,19.8,20.0,19.7,19.9,
            19.8,20.0,19.9,20.1,20.2]

# thresholds and their labels
a_thresholds = [33, 27]
a_thr_labels = ['33℃', '27℃']
c_thresholds = [29.4]
c_thr_labels = ['29.4℃']
d_thresholds = [30]
d_thr_labels = ['30℃']
e_thresholds = [24, 21]
e_thr_labels = ['>50%', '<50%']
f_thresholds = [28, 19]
f_thr_labels = ['28℃', '19℃']

periods = ['Near-term', 'Mid-term', 'Long-term']
period_spans = [(2021, 2040), (2041, 2060), (2081, 2099)]

# ---------------- styling ----------------
C_CNTL = '#6b1d1d'
C_R09 = '#f5432b'
C_DA = '#27a98b'
period_fill = ['#1e2b3c', '#f59234', '#a33a36']
period_text = ['#17212e', '#f79a3c', '#a8322d']
GRAY = '#6f6f6f'

plt.rcParams['font.family'] = ['DejaVu Sans']

panels = [
    dict(title='(a) NWS_HI', unit=True, ylim=(10, 36), yticks=[10, 20, 30],
         ann=(a_cntl_ann, a_r09_ann, a_da_ann), jja=(a_cntl_jja, a_r09_jja, a_da_jja),
         djf=(a_cntl_djf, a_r09_djf, a_da_djf), thr=a_thresholds, thr_lab=a_thr_labels,
         marks=[(a_r09_jja, 27, C_R09), (a_da_jja, 27, C_DA)]),
    dict(title='(b) AT', unit=True, ylim=(10, 36), yticks=[10, 20, 30],
         ann=(b_cntl_ann, b_r09_ann, b_da_ann), jja=(b_cntl_jja, b_r09_jja, b_da_jja),
         djf=(b_cntl_djf, b_r09_djf, b_da_djf), thr=[], thr_lab=[], marks=[]),
    dict(title='(c) SWBGT', unit=True, ylim=(10, 36), yticks=[10, 20, 30],
         ann=(c_cntl_ann, c_r09_ann, c_da_ann), jja=(c_cntl_jja, c_r09_jja, c_da_jja),
         djf=(c_cntl_djf, c_r09_djf, c_da_djf), thr=c_thresholds, thr_lab=c_thr_labels,
         marks=[]),
    dict(title='(d) HUMIDEX', unit=True, ylim=(10, 36), yticks=[10, 20, 30],
         ann=(d_cntl_ann, d_r09_ann, d_da_ann), jja=(d_cntl_jja, d_r09_jja, d_da_jja),
         djf=(d_cntl_djf, d_r09_djf, d_da_djf), thr=d_thresholds, thr_lab=d_thr_labels,
         marks=[(d_cntl_jja, 30, C_CNTL), (d_r09_jja, 30, C_R09), (d_da_jja, 30, C_DA)]),
    dict(title='(e) DI', unit=False, ylim=(10, 27.2), yticks=[10, 15, 20, 25],
         ann=(e_cntl_ann, e_r09_ann, e_da_ann), jja=(e_cntl_jja, e_r09_jja, e_da_jja),
         djf=(e_cntl_djf, e_r09_djf, e_da_djf), thr=e_thresholds, thr_lab=e_thr_labels,
         marks=[(e_cntl_jja, 24, C_CNTL), (e_r09_jja, 24, C_R09), (e_da_jja, 24, C_DA)]),
    dict(title='(f) TBUILD', unit=True, ylim=(17, 31), yticks=[20, 25, 30],
         ann=(f_cntl_ann, f_r09_ann, f_da_ann), jja=(f_cntl_jja, f_r09_jja, f_da_jja),
         djf=(f_cntl_djf, f_r09_djf, f_da_djf), thr=f_thresholds, thr_lab=f_thr_labels,
         marks=[(f_cntl_jja, 28, C_R09), (f_da_jja, 28, C_DA),
                (f_r09_djf, 19, C_R09), (f_da_djf, 19, C_DA)]),
]

fig = plt.figure(figsize=(10.41, 5.21), dpi=100)
lefts = [0.0384, 0.3756, 0.7137]
bottoms = [0.6526, 0.2188]
W, H = 0.2334, 0.2815

case_colors = [C_CNTL, C_R09, C_DA]
season_styles = {'ann': dict(ls='-', lw=1.3), 'jja': dict(ls=':', lw=1.3), 'djf': dict(ls='--', lw=1.2)}

for k, p in enumerate(panels):
    ax = fig.add_axes([lefts[k % 3], bottoms[k // 3], W, H])
    for (x0, x1), fc in zip(period_spans, period_fill):
        ax.axvspan(x0, x1, color=fc, alpha=0.09, lw=0, zorder=0)
    for yv in p['yticks']:
        if yv > p['ylim'][0]:
            ax.axhline(yv, color='#d6d6d6', ls=(0, (5, 3)), lw=1.0, zorder=1)
    trans = mtransforms.blended_transform_factory(ax.transAxes, ax.transData)
    for yv, lab in zip(p['thr'], p['thr_lab']):
        ax.axhline(yv, color='#6a6a6a', ls=(0, (5, 3)), lw=1.2, zorder=2)
        ax.text(1.0, yv, lab, transform=trans, ha='left', va='center',
                fontsize=12, color=GRAY)
    for season in ['ann', 'jja', 'djf']:
        for series, col in zip(p[season], case_colors):
            ax.plot(years, series, color=col, zorder=3, **season_styles[season])
    for series, thr, col in p['marks']:
        idx = next(i for i, v in enumerate(series) if v >= thr)
        ax.plot(years[idx], thr, 'o', color=col, ms=5.5, zorder=5)

    ax.set_xlim(2015, 2099)
    ax.set_ylim(*p['ylim'])
    ax.set_yticks(p['yticks'])
    ax.set_xticks([2015, 2050, 2099])
    ax.set_xticks([2020, 2030, 2040, 2060, 2070, 2080, 2090], minor=True)
    ax.tick_params(axis='y', length=0, labelsize=12, labelcolor=GRAY, pad=8)
    ax.tick_params(axis='x', which='major', length=7, width=1.6, color='#777777',
                   labelsize=12, labelcolor=GRAY, pad=3)
    ax.tick_params(axis='x', which='minor', length=4, width=1.6, color='#777777')
    for s in ['left', 'right', 'top']:
        ax.spines[s].set_visible(False)
    ax.spines['bottom'].set_color('#777777')
    ax.spines['bottom'].set_linewidth(1.8)
    ax.set_title(p['title'], fontsize=11.5, color=GRAY, pad=8)
    if p['unit']:
        ax.annotate('℃', xy=(0, 1), xycoords='axes fraction', xytext=(0, 6),
                    textcoords='offset points', ha='center', va='bottom',
                    fontsize=11.5, color=GRAY)

# legend
case_names = ['CNTL', 'ROOF_0.9', 'ROOF_DA']
season_names = {'ann': 'ANN', 'jja': 'JJA', 'djf': 'DJF'}
handles, labels, tcolors = [], [], []
for season in ['ann', 'jja', 'djf']:
    for name, col in zip(case_names, case_colors):
        handles.append(Line2D([], [], color=col, **season_styles[season]))
        labels.append('%s - %s' % (name, season_names[season]))
        tcolors.append(col)
for name, fc, tc in zip(periods, period_fill, period_text):
    handles.append(Patch(facecolor=fc, alpha=0.09, edgecolor='none'))
    labels.append(name)
    tcolors.append(tc)

leg = fig.legend(handles, labels, ncol=4, loc='lower center', bbox_to_anchor=(0.497, -0.012),
                 frameon=False, fontsize=11.5, handlelength=2.2, handleheight=1.2,
                 columnspacing=1.75, labelspacing=0.25, handletextpad=0.5)
for t, c in zip(leg.get_texts(), tcolors):
    t.set_color(c)

fig.savefig('out.png', dpi=100)
